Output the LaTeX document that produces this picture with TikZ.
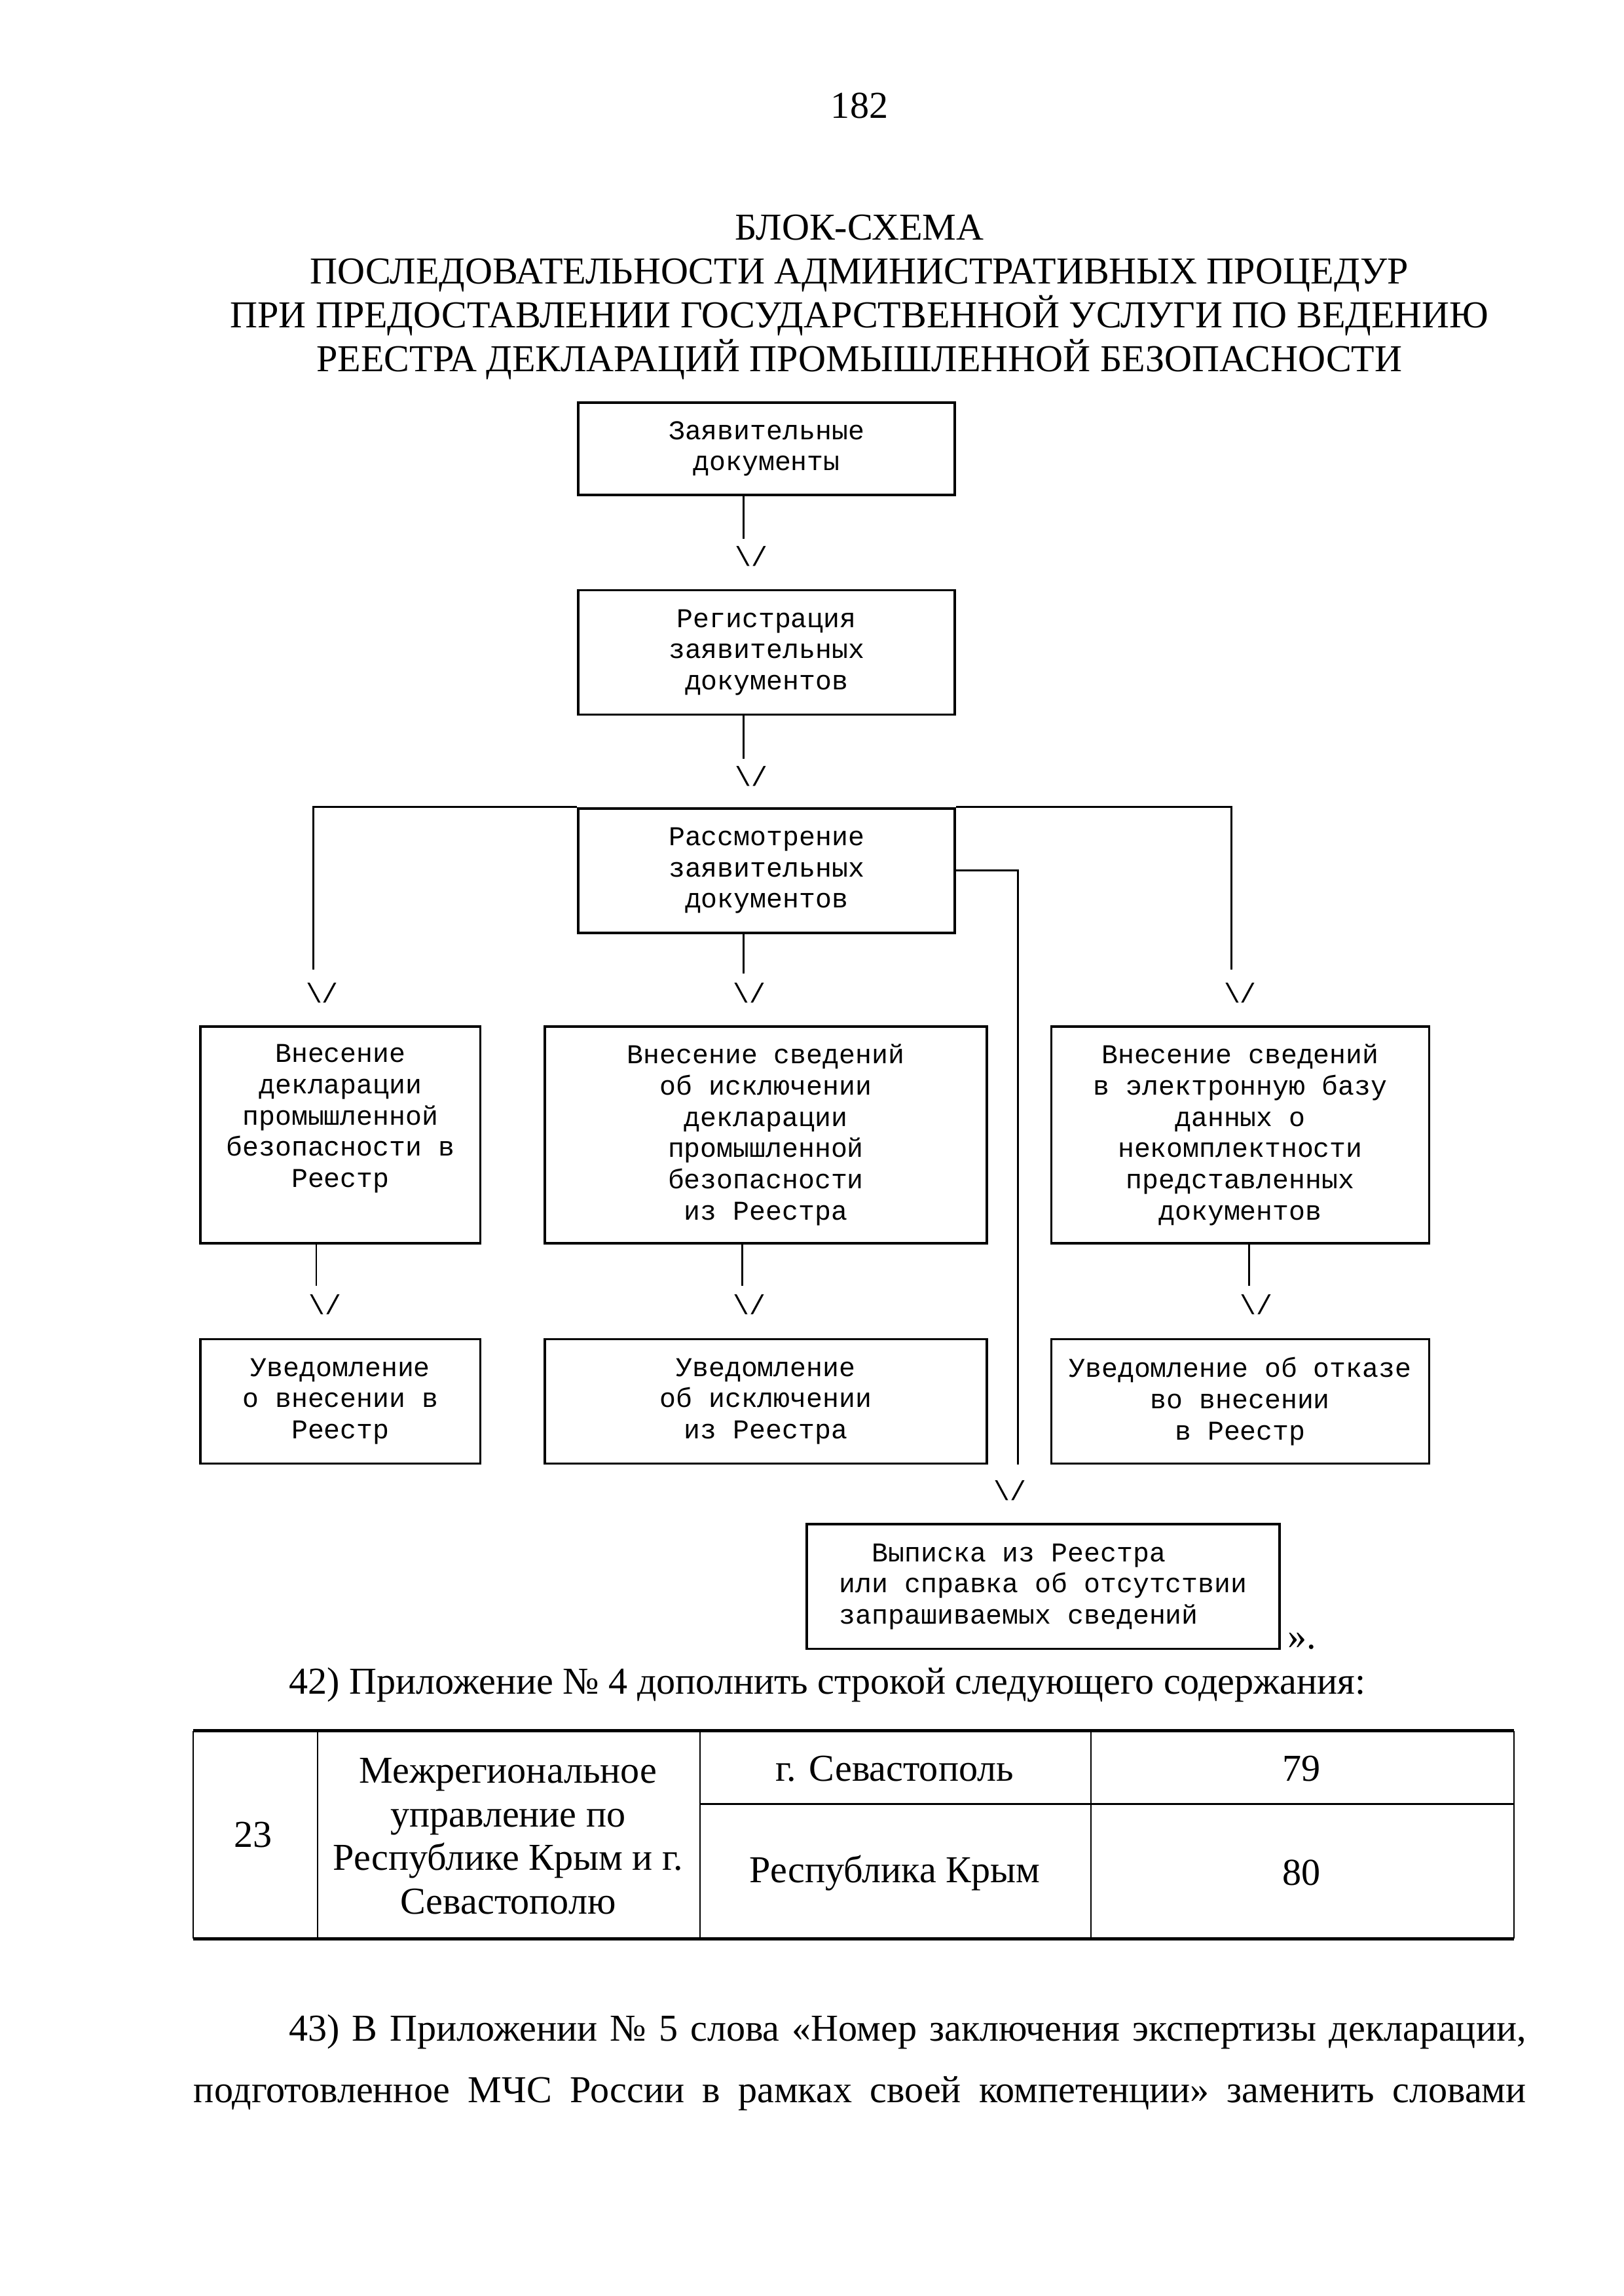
\documentclass[tikz,border=0pt]{standalone}
\usepackage{fontspec}
\setmainfont{Liberation Serif}
\setmonofont{Liberation Mono}
\usetikzlibrary{positioning}
\newlength\px
\setlength\px{0.18936mm}
\newcommand\boxfont{\ttfamily\fontsize{10}{11.5}\selectfont}
\newcommand\pagefont{\rmfamily\fontsize{14}{16.1}\selectfont}

\begin{document}
\begin{tikzpicture}[x=\px, y=-0.18941mm,
    proc/.style={draw, line width=0.9pt, font=\boxfont, align=center,
        inner sep=0pt},
    tipmark/.style={font=\boxfont, inner sep=0pt},
    link/.style={line width=0.7pt},
    txt/.style={font=\pagefont, inner sep=0pt},
    rule/.style={line width=1.1pt}, cellrule/.style={line width=0.5pt}]
  \useasboundingbox (0,0) rectangle (1109,1568);

  % page head
  \node[txt] (pg) at (587,72) {182};
  \node[txt, align=center] (title) at (587,203) {БЛОК-СХЕМА\\
    ПОСЛЕДОВАТЕЛЬНОСТИ АДМИНИСТРАТИВНЫХ ПРОЦЕДУР\\
    ПРИ ПРЕДОСТАВЛЕНИИ ГОСУДАРСТВЕННОЙ УСЛУГИ ПО ВЕДЕНИЮ\\
    РЕЕСТРА ДЕКЛАРАЦИЙ ПРОМЫШЛЕННОЙ БЕЗОПАСНОСТИ};

  % main column
  \node[proc, minimum width=257\px, minimum height=63\px] (docs) at (523.5,306.5)
    {Заявительные\\документы};
  \node[proc, minimum width=257\px, minimum height=85\px] (reg) at (523.5,445.5)
    {Регистрация\\заявительных\\документов};
  \node[proc, minimum width=257\px, minimum height=85\px] (exam) at (523.5,594.5)
    {Рассмотрение\\заявительных\\документов};

  % three outcomes
  \node[proc, minimum width=191\px, minimum height=148\px, text depth=14pt]
    (enter) at (232.5,775) {Внесение\\декларации\\промышленной\\безопасности в\\Реестр};
  \node[proc, minimum width=302\px, minimum height=148\px] (remove) at (523,775)
    {Внесение сведений\\об исключении\\декларации\\промышленной\\безопасности\\из Реестра};
  \node[proc, minimum width=258\px, minimum height=148\px] (incompl) at (847,775)
    {Внесение сведений\\в электронную базу\\данных о\\некомплектности\\представленных\\документов};

  % notices
  \node[proc, minimum width=191\px, minimum height=85\px, below=12.1mm of enter]
    (ntenter) {Уведомление\\о внесении в\\Реестр};
  \node[proc, minimum width=302\px, minimum height=85\px, below=12.1mm of remove]
    (ntremove) {Уведомление\\об исключении\\из Реестра};
  \node[proc, minimum width=258\px, minimum height=85\px, below=12.1mm of incompl]
    (ntrefuse) {Уведомление об отказе\\во внесении\\в Реестр};

  \node[proc, align=left, minimum width=323\px, minimum height=85\px] (extract)
    at (712.5,1083.5) {\hspace*{1.2em}Выписка из Реестра\\или справка об отсутствии\\запрашиваемых сведений};
  \node[txt, anchor=west] (quote) at (879,1121) {».};

  % connectors
  \coordinate (s1) at (508,368);
  \coordinate (s2) at (508,518);
  \coordinate (s31) at (214,662);
  \coordinate (s32) at (508,665);
  \coordinate (s33) at (841,662);
  \coordinate (s34) at (695,1000);
  \coordinate (s41) at (216,878);
  \coordinate (s42) at (507,878);
  \coordinate (s43) at (853,878);

  \draw[link] (docs.south -| s1) -- (s1);
  \draw[link] (reg.south -| s2) -- (s2);
  \draw[link] (exam.north west) -| (s31);
  \draw[link] (exam.north east) -| (s33);
  \draw[link] (exam.south -| s32) -- (s32);
  \draw[link] (exam.east) -| (s34);
  \draw[link] (enter.south -| s41) -- (s41);
  \draw[link] (remove.south -| s42) -- (s42);
  \draw[link] (incompl.south -| s43) -- (s43);

  \node[tipmark] (t1) at (513,380) {\textbackslash/};
  \node[tipmark] (t2) at (513,530) {\textbackslash/};
  \node[tipmark] (t31) at (220,678) {\textbackslash/};
  \node[tipmark] (t32) at (512,678) {\textbackslash/};
  \node[tipmark] (t33) at (847,678) {\textbackslash/};
  \node[tipmark] (t34) at (690,1018) {\textbackslash/};
  \node[tipmark] (t41) at (222,891) {\textbackslash/};
  \node[tipmark] (t42) at (512,891) {\textbackslash/};
  \node[tipmark] (t43) at (858,891) {\textbackslash/};

  % item 42 and its table
  \node[txt, anchor=base west] (item42) at (197,1157)
    {42) Приложение № 4 дополнить строкой следующего содержания:};

  \draw[rule] (132,1182) -- (1034,1182);
  \draw[rule] (132,1324) -- (1034,1324);
  \draw[cellrule] (132,1182) -- (132,1324);
  \draw[cellrule] (1034,1182) -- (1034,1324);
  \foreach \cx in {217,478,745}
    \draw[cellrule] (\cx,1182) -- (\cx,1324);
  \draw[cellrule] (478,1232) -- (1034,1232);

  \node[txt] (num) at (173,1253) {23};
  \node[txt, align=center] (office) at (347,1254)
    {Межрегиональное\\управление по\\Республике Крым и г.\\Севастополю};
  \node[txt] (city) at (611,1208) {г. Севастополь};
  \node[txt] (code1) at (889,1208) {79};
  \node[txt] (rep) at (611,1279) {Республика Крым};
  \node[txt] (code2) at (889,1279) {80};

  % item 43
  \node[txt, anchor=base west] (item43a) at (197,1394)
    {\makebox[845\px][s]{43) В Приложении № 5 слова «Номер заключения экспертизы декларации,}};
  \node[txt, anchor=base west] (item43b) at (132,1436)
    {\makebox[910\px][s]{подготовленное МЧС России в рамках своей компетенции» заменить словами}};
\end{tikzpicture}
\end{document}
